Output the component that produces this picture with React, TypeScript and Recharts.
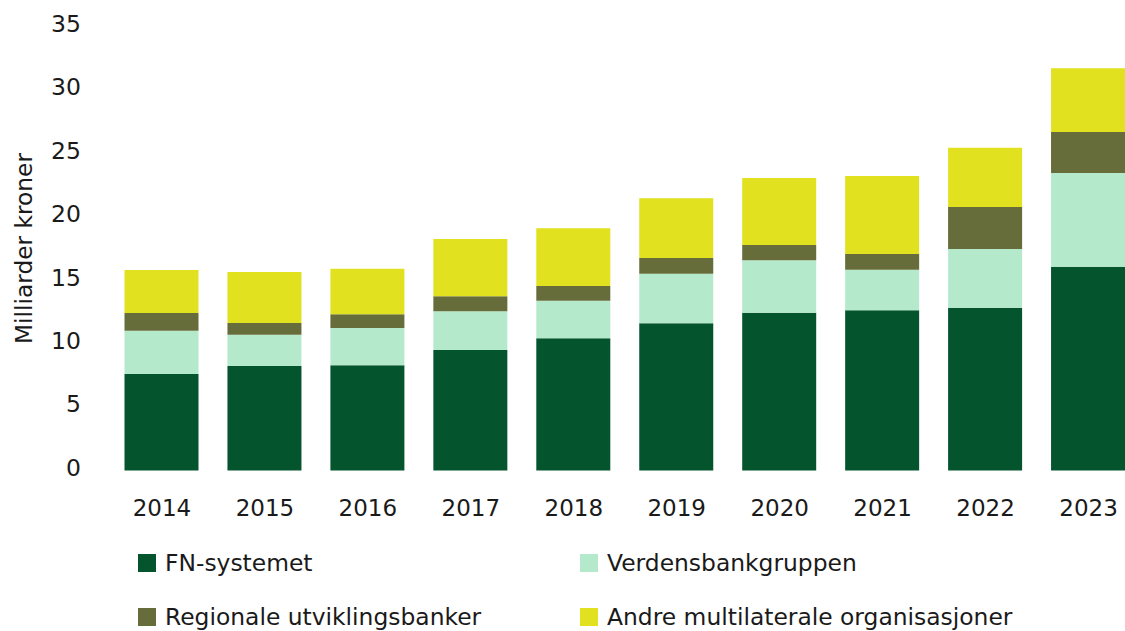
import React from 'react';
import { BarChart, Bar, XAxis, YAxis } from 'recharts';

const years = ['2014', '2015', '2016', '2017', '2018', '2019', '2020', '2021', '2022', '2023'];
const fnSystemet = [7.61, 8.24, 8.29, 9.5, 10.42, 11.6, 12.44, 12.63, 12.83, 16.06];
const verdensbank = [3.41, 2.46, 2.94, 3.05, 2.96, 3.91, 4.13, 3.2, 4.63, 7.39];
const regionale = [1.4, 0.93, 1.08, 1.18, 1.16, 1.24, 1.21, 1.24, 3.31, 3.23];
const andre = [3.38, 4.02, 3.6, 4.52, 4.55, 4.71, 5.28, 6.14, 4.68, 5.02];
const yTicks = [0, 5, 10, 15, 20, 25, 30, 35];

const series = [
  { key: 'fn', name: 'FN-systemet', color: '#04552E' },
  { key: 'vb', name: 'Verdensbankgruppen', color: '#B4EACB' },
  { key: 'rb', name: 'Regionale utviklingsbanker', color: '#666C3A' },
  { key: 'an', name: 'Andre multilaterale organisasjoner', color: '#E1E11F' },
];

const data = years.map((y, i) => ({
  year: y,
  fn: fnSystemet[i],
  vb: verdensbank[i],
  rb: regionale[i],
  an: andre[i],
}));

const FONT = '"DejaVu Sans", sans-serif';
const TEXT = '#1a1a1a';

const YLabel = (props: any) => {
  const vb = props.viewBox || {};
  const cy = (vb.y || 0) + (vb.height || 0) / 2;
  return (
    <text
      x={23}
      y={cy}
      transform={`rotate(-90, 23, ${cy})`}
      textAnchor="middle"
      dominantBaseline="central"
      fontFamily={FONT}
      fontSize={23.3}
      fill={TEXT}
    >
      Milliarder kroner
    </text>
  );
};

export default function App() {
  const legendPos = [
    { left: 138, top: 554 },
    { left: 580, top: 554 },
    { left: 138, top: 608 },
    { left: 580, top: 608 },
  ];
  return (
    <div
      style={{
        position: 'absolute',
        left: 0,
        top: 0,
        width: 1125,
        height: 631,
        overflow: 'hidden',
        background: '#fff',
      }}
    >
      <BarChart
        width={1160}
        height={560}
        data={data}
        margin={{ top: 26.5, right: 20, bottom: 29.5, left: 0 }}
      >
        <XAxis
          dataKey="year"
          axisLine={false}
          tickLine={false}
          tickSize={0}
          tickMargin={29}
          height={60}
          tick={{ fontFamily: FONT, fontSize: 23, fill: TEXT }}
        />
        <YAxis
          domain={[0, 35]}
          ticks={yTicks}
          axisLine={false}
          tickLine={false}
          tickSize={0}
          tickMargin={29.5}
          width={110.5}
          tick={{ fontFamily: FONT, fontSize: 23.5, fill: TEXT, dy: -3 }}
          label={<YLabel />}
        />
        {series.map((s) => (
          <Bar
            key={s.key}
            dataKey={s.key}
            name={s.name}
            stackId="a"
            fill={s.color}
            barSize={74}
            isAnimationActive={false}
          />
        ))}
      </BarChart>
      {series.map((s, i) => (
        <div
          key={s.key}
          style={{
            position: 'absolute',
            left: legendPos[i].left,
            top: legendPos[i].top,
            height: 18,
            display: 'flex',
            alignItems: 'center',
            fontFamily: FONT,
            fontSize: 23.4,
            color: TEXT,
            whiteSpace: 'nowrap',
          }}
        >
          <span
            style={{
              display: 'inline-block',
              width: 18,
              height: 18,
              background: s.color,
              marginRight: 9,
            }}
          />
          <span>{s.name}</span>
        </div>
      ))}
    </div>
  );
}
